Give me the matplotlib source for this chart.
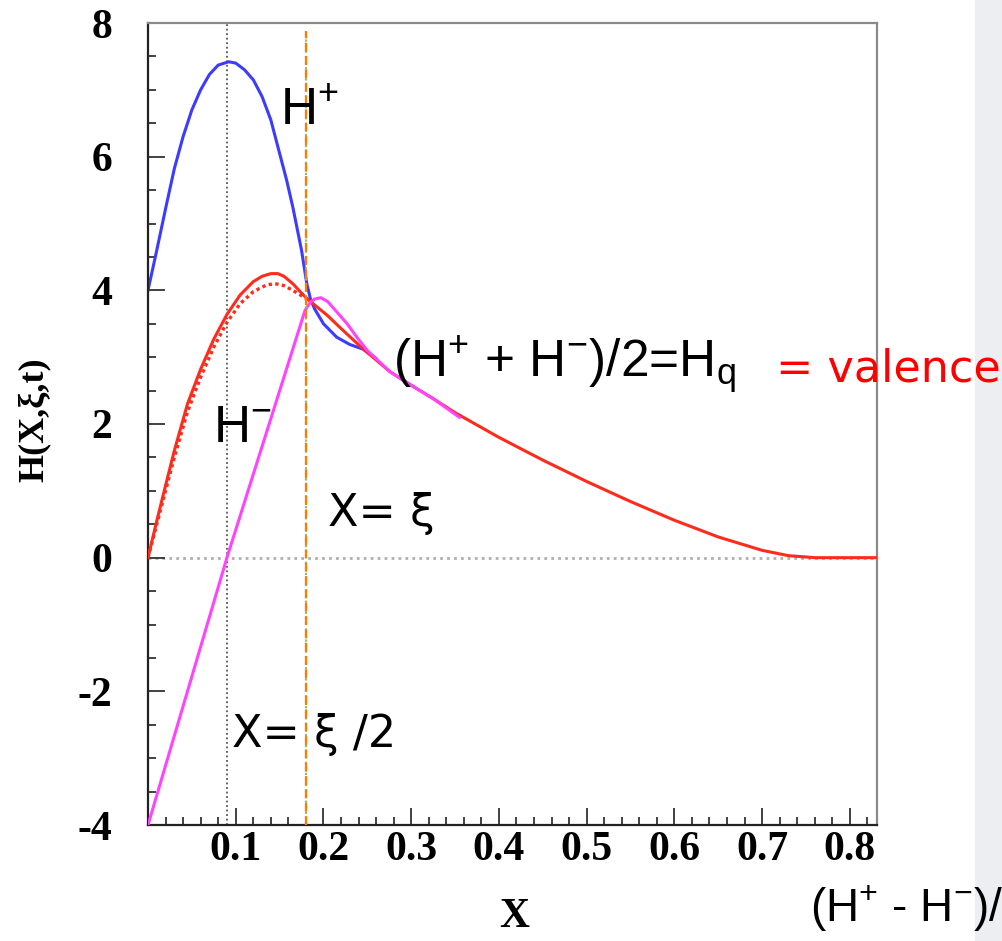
import numpy as np
import matplotlib.pyplot as plt
from matplotlib.ticker import MultipleLocator
from matplotlib.patches import Rectangle

plt.rcParams['axes.unicode_minus'] = False
plt.rcParams['mathtext.default'] = 'regular'

# ---- data ----
xi = 0.18  # X = xi line
xi_half = 0.09  # X = xi/2 line

# H+ (blue)
hp_x = [0, 0.005, 0.01, 0.02, 0.03, 0.04, 0.05, 0.06, 0.07, 0.08, 0.092, 0.1, 0.11,
        0.12, 0.13, 0.14, 0.15, 0.158, 0.165, 0.175, 0.181, 0.185, 0.19, 0.2,
        0.215, 0.23, 0.245, 0.26]
hp_y = [4.0, 4.3, 4.6, 5.22, 5.82, 6.3, 6.7, 7.0, 7.23, 7.37, 7.42, 7.4, 7.3,
        7.15, 6.9, 6.55, 6.05, 5.65, 5.25, 4.6, 4.1, 3.88, 3.72, 3.5,
        3.3, 3.19, 3.12, 2.98]

# Hq = (H+ + H-)/2 (red, solid)
hq_x = [0, 0.01, 0.02, 0.03, 0.045, 0.06, 0.075, 0.09, 0.105, 0.12, 0.13, 0.14,
        0.148, 0.155, 0.165, 0.175, 0.181, 0.19, 0.204, 0.22, 0.238, 0.25, 0.276,
        0.30, 0.325, 0.35, 0.40, 0.45, 0.50, 0.55, 0.60, 0.65, 0.70, 0.73, 0.76,
        0.831]
hq_y = [0, 0.55, 1.08, 1.6, 2.3, 2.82, 3.27, 3.64, 3.93, 4.13, 4.21, 4.25,
        4.25, 4.21, 4.1, 3.96, 3.88, 3.78, 3.63, 3.43, 3.21, 3.07, 2.78,
        2.58, 2.38, 2.17, 1.8, 1.46, 1.14, 0.84, 0.56, 0.31, 0.11, 0.03, 0.0,
        0.0]

# valence (red, dotted)
val_x = [0, 0.01, 0.02, 0.03, 0.045, 0.06, 0.075, 0.09, 0.105, 0.12, 0.135, 0.145,
         0.155, 0.165, 0.175, 0.185]
val_y = [0, 0.5, 1.0, 1.5, 2.18, 2.7, 3.15, 3.52, 3.8, 3.98, 4.08, 4.1,
         4.07, 4.0, 3.92, 3.84]

# H- (magenta)
hm_x = [0, 0.09, 0.179, 0.185, 0.19, 0.197, 0.205, 0.215, 0.227, 0.238, 0.25,
        0.276, 0.30, 0.325, 0.355]
hm_y = [-4.0, 0.0, 3.7, 3.82, 3.87, 3.89, 3.83, 3.68, 3.5, 3.3, 3.1,
        2.78, 2.58, 2.38, 2.1]

x_ticks = [0.1, 0.2, 0.3, 0.4, 0.5, 0.6, 0.7, 0.8]
x_labels = ['0.1', '0.2', '0.3', '0.4', '0.5', '0.6', '0.7', '0.8']
y_ticks = [-4, -2, 0, 2, 4, 6, 8]
y_labels = ['-4', '-2', '0', '2', '4', '6', '8']

W, H = 1003, 941
fig = plt.figure(figsize=(W / 100, H / 100), dpi=100)

# light marble strip on the right edge of the slide
fig.patches.append(Rectangle((975 / W, 0), 28 / W, 1, transform=fig.transFigure,
                             facecolor='#eceef2', edgecolor='none', zorder=0))

ax = fig.add_axes([148 / W, 1 - 825 / H, 729 / W, 802 / H])
ax.set_xlim(0, 0.831)
ax.set_ylim(-4, 8)

# reference lines
ax.axhline(0, color='#b0b0b0', ls=(0, (1, 1.5)), lw=2, zorder=1)
ax.axvline(xi_half, color='#555555', ls=(0, (1, 1.5)), lw=1.3, zorder=1)
ax.axvline(xi, ymax=0.99, color='#9cb86a', ls=(0, (1, 1.5)), lw=1.6, zorder=5)
ax.axvline(xi, ymax=0.99, color='#ff7a00', ls=(0, (4, 2)), lw=1.6, zorder=5)

# curves
ax.plot(hp_x, hp_y, color='#3c3cff', lw=2.2, zorder=2)
ax.plot(val_x, val_y, color='#ff2b1c', lw=2.4, ls=(0, (1, 1)), zorder=3)
ax.plot(hq_x, hq_y, color='#ff2b1c', lw=2.2, zorder=3)
ax.plot(hm_x, hm_y, color='#ff44ff', lw=2.2, zorder=4)

# axes styling (ROOT-like)
for s in ['left', 'bottom']:
    ax.spines[s].set_color('#222222')
    ax.spines[s].set_linewidth(1.6)
for s in ['top', 'right']:
    ax.spines[s].set_color('#8a8a8a')
    ax.spines[s].set_linewidth(1.6)

tick_font = dict(family='Liberation Serif', fontweight='bold', fontsize=30)
ax.set_xticks(x_ticks, x_labels, **tick_font)
ax.set_yticks(y_ticks, y_labels, **tick_font)
ax.xaxis.set_minor_locator(MultipleLocator(0.02))
ax.yaxis.set_minor_locator(MultipleLocator(0.5))
ax.tick_params(which='both', direction='in', top=False, right=False,
               color='#333333', width=1.3)
ax.tick_params(which='major', length=12.5)
ax.tick_params(which='minor', length=6)
ax.tick_params(axis='x', pad=4)
ax.tick_params(axis='y', pad=26)

ax.set_xlabel('X', family='Liberation Serif', fontweight='bold', fontsize=30)
ax.xaxis.set_label_coords(0.503, -0.091)
ax.set_ylabel('H(X,ξ,t)', family='Liberation Serif', fontweight='bold', fontsize=26)
ax.yaxis.set_label_coords(-0.134, 0.505)

# slide annotations
def px(x, y):
    return x / W, 1 - y / H

sans = dict(family='Liberation Sans', fontsize=37, va='baseline', ha='left')
comic = dict(family='DejaVu Sans', fontsize=32, va='baseline', ha='left')

fig.text(*px(280, 125), 'H$^{+}$', **sans)
fig.text(*px(213, 442), 'H$^{-}$', **sans)
fig.text(*px(393, 378), '(H$^{+}$ + H$^{-}$)/2=H$_{q}$', **sans)
fig.text(*px(776, 381), '= valence', color='#ff0000', **comic)
fig.text(*px(328, 526), 'X= ξ', **comic)
fig.text(*px(232, 747), 'X= ξ /2', **comic)
# this one runs off the slide's right edge, as in the reference
fig.text(*px(810, 922), '(H$^{+}$ - H$^{-}$)/2', family='Liberation Sans',
         fontsize=33, va='baseline', ha='left')

fig.savefig('out.png', dpi=100)
plt.close(fig)
